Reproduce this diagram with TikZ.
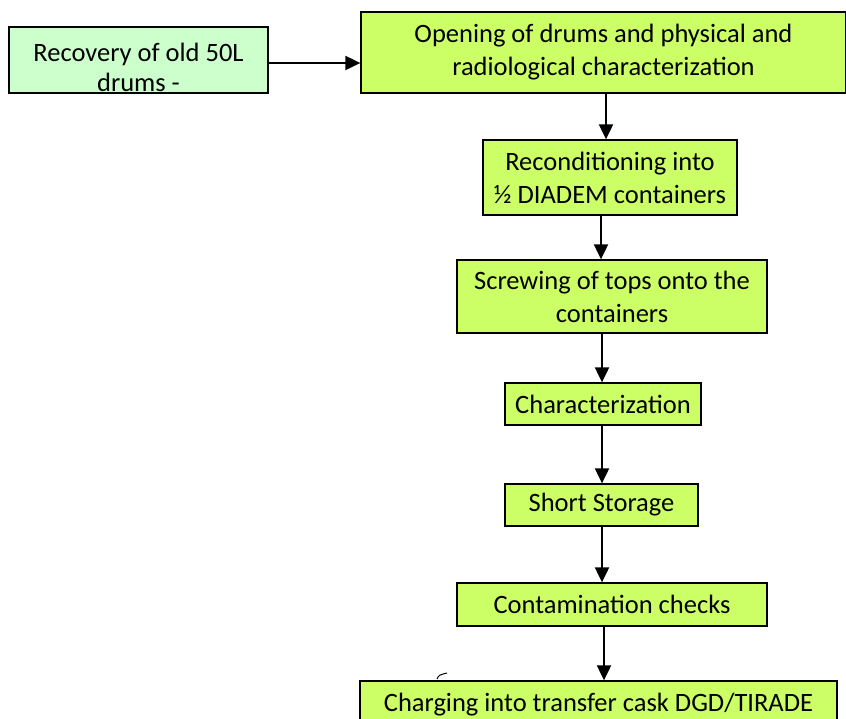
\documentclass[tikz,border=0pt]{standalone}
\usepackage{fontspec}
\setmainfont{Carlito}
\usetikzlibrary{arrows.meta,positioning}
\definecolor{stepgreen}{HTML}{CCFF66}
\definecolor{mintgreen}{HTML}{CCFFCC}
\begin{document}
\begin{tikzpicture}[x=1pt, y=-1pt,
      box/.style={draw, line width=1.3pt, fill=stepgreen, inner sep=0pt,
                  font=\fontsize{26.5}{33}\selectfont, align=center},
      startbox/.style={box, fill=mintgreen},
      arr/.style={-{Triangle[length=15pt, width=14pt]}, line width=2pt}
  ]
    \useasboundingbox (0,0) rectangle (846,718);
    \clip (0,0) rectangle (846,718);
    % boxes
    \node[startbox, minimum width=259, minimum height=66] (rec) at (138.5,60) {};
    \node[font=\fontsize{26.5}{30}\selectfont, align=center] (rectxt) at (138.5,67) {Recovery of old 50L\\drums -};
    \node[box, minimum width=485, minimum height=81] (open) at (603.5,52.5) {Opening of drums and physical and\\radiological characterization};
    \node[box, minimum width=254, minimum height=75] (recon) at (610,177.5) {Reconditioning into\\½ DIADEM containers};
    \node[box, minimum width=310, minimum height=73] (screw) at (612,296.5) {Screwing of tops onto the\\containers};
    \node[box, minimum width=196, minimum height=42] (char) at (603,404) {Characterization};
    \node[box, minimum width=193, minimum height=42] (store) at (601.5,505) {Short Storage};
    \node[box, minimum width=310, minimum height=43] (cont) at (612,604.5) {Contamination checks};
    \node[box, minimum width=477, minimum height=48] (load) at (598.5,705) {Charging into transfer cask DGD/TIRADE};
    % arrows
    \draw[arr] (rec.east |- 0,63) -- (open.west |- 0,63);
    \draw[arr] (open.south -| 606,0) -- (recon.north -| 606,0);
    \draw[arr] (recon.south -| 601,0) -- (screw.north -| 601,0);
    \draw[arr] (screw.south -| 602,0) -- (char.north -| 602,0);
    \draw[arr] (char.south -| 602,0) -- (store.north -| 602,0);
    \draw[arr] (store.south -| 602,0) -- (cont.north -| 602,0);
    \draw[arr] (cont.south -| 604,0) -- (load.north -| 604,0);
    % stray mark
    \draw[line width=1pt] (437,679) .. controls (439,675) .. (447,673);
\end{tikzpicture}
\end{document}
